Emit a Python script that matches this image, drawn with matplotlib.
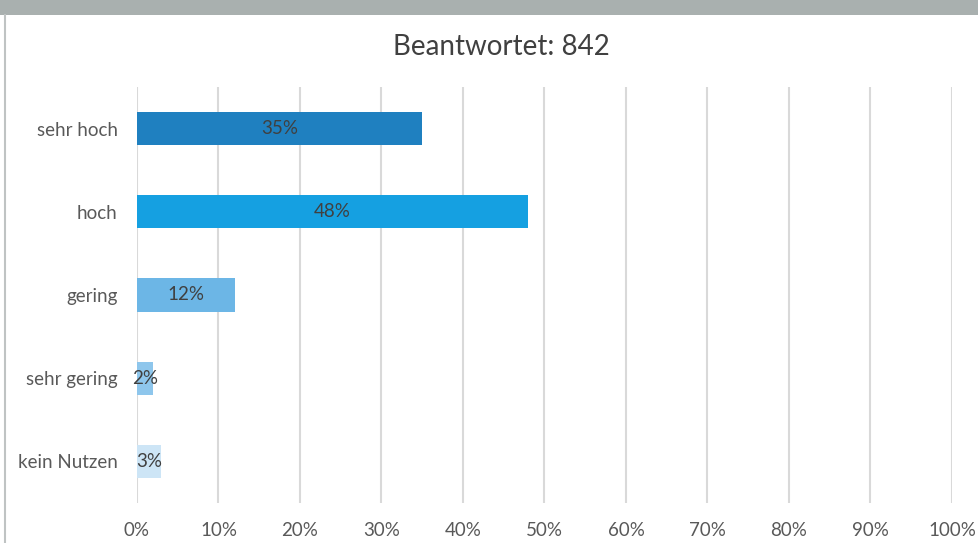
import matplotlib.pyplot as plt
from matplotlib.patches import Rectangle
from matplotlib.lines import Line2D
from matplotlib.ticker import PercentFormatter

plt.rcParams['font.family'] = ['Lato', 'DejaVu Sans']

# Data
categories = ['sehr hoch', 'hoch', 'gering', 'sehr gering', 'kein Nutzen']
values = [35, 48, 12, 2, 3]
bar_colors = ['#1F80C0', '#15A0E1', '#6CB6E6', '#8EC6EC', '#CDE5F6']
title = 'Beantwortet: 842'
xticks = list(range(0, 101, 10))

W, H = 979, 543
fig = plt.figure(figsize=(W / 100, H / 100), dpi=100)
fig.patch.set_facecolor('white')

# top grey band and left border
fig.add_artist(Rectangle((0, 1 - 15 / H), 1, 15 / H, transform=fig.transFigure,
                         facecolor='#A9B0AF', edgecolor='none'))
fig.add_artist(Line2D([5.5 / W, 5.5 / W], [0, 1 - 15 / H], transform=fig.transFigure,
                      color='#BFC3C3', linewidth=1.5))

ax = fig.add_axes([137 / W, 40 / H, (952 - 137) / W, (503 - 87) / H])

y = list(range(len(categories)))
bars = ax.barh(y, values, height=0.4, color=bar_colors, zorder=3)
for b, v in zip(bars, values):
    ax.text(b.get_width() / 2, b.get_y() + b.get_height() / 2, f'{v}%',
            ha='center', va='center', fontsize=13.5, color='#404040', zorder=4)

ax.set_xlim(0, 100)
ax.set_ylim(len(categories) - 0.5, -0.5)
ax.set_xticks(xticks)
ax.xaxis.set_major_formatter(PercentFormatter(decimals=0))
ax.set_yticks(y)
ax.set_yticklabels(categories)
ax.grid(axis='x', color='#D9D9D9', linewidth=1.5, zorder=0)
ax.tick_params(axis='both', length=0, labelsize=13.5, labelcolor='#595959')
ax.tick_params(axis='x', pad=14)
ax.tick_params(axis='y', pad=14)
for s in ax.spines.values():
    s.set_visible(False)

fig.text(501 / W, 1 - 47 / H, title, ha='center', va='center', fontsize=20, color='#404040')

fig.savefig('out.png', dpi=100)
